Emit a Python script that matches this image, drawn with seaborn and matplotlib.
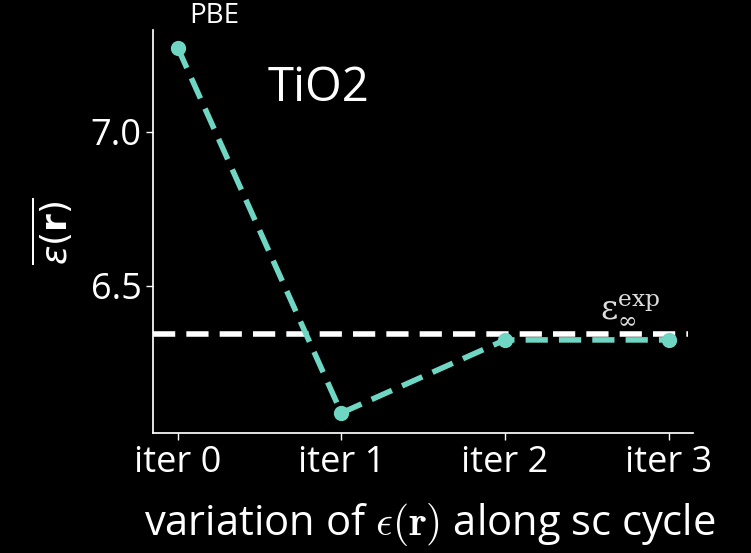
import matplotlib
matplotlib.use('Agg')
import matplotlib.pyplot as plt
import pandas as pd
import seaborn as sns

# data
iterations = [0, 1, 2, 3]
iter_labels = ['iter 0', 'iter 1', 'iter 2', 'iter 3']
eps_mean = [7.273, 6.088, 6.325, 6.325]
eps_exp = 6.344

teal = '#70d6c4'

sns.set_theme(style='ticks', rc={
    'figure.facecolor': 'black',
    'axes.facecolor': 'black',
    'axes.edgecolor': 'white',
    'xtick.color': 'white',
    'ytick.color': 'white',
    'text.color': 'white',
    'axes.labelcolor': 'white',
})
plt.rcParams['font.family'] = ['Open Sans', 'DejaVu Sans']

df = pd.DataFrame({'iter': iterations, 'eps': eps_mean})

fig, ax = plt.subplots(figsize=(7.51, 5.53), dpi=100)
fig.subplots_adjust(left=0.204, right=0.923, top=0.946, bottom=0.217)

ax.axhline(eps_exp, xmin=0, xmax=0.99, color='white', ls='--', lw=4,
           dashes=(4, 2))
sns.lineplot(data=df, x='iter', y='eps', ax=ax, color=teal, lw=4,
             marker='o', markersize=11, markeredgewidth=0, dashes=False,
             linestyle='--')
ax.lines[-1].set_dashes((4, 2))

ax.set_xlim(-0.15, 3.15)
ax.set_ylim(6.023, 7.331)
ax.set_xticks(iterations)
ax.set_xticklabels(iter_labels)
ax.set_yticks([6.5, 7.0])
ax.tick_params(labelsize=26, width=1, length=5)
sns.despine(ax=ax)

ax.set_xlabel(r'variation of $\epsilon(\mathbf{r})$ along sc cycle',
              fontsize=30, math_fontfamily='cm')
ax.xaxis.set_label_coords(0.512, -0.168)
ax.set_ylabel(r'$\overline{\varepsilon(\mathbf{r})}$', fontsize=26,
              labelpad=10, math_fontfamily='dejavusans')

ax.text(0.07, 7.33, 'PBE', fontsize=20, ha='left', va='bottom',
        clip_on=False)
ax.text(0.55, 7.14, 'TiO2', fontsize=34, ha='left', va='center')
ax.text(2.58, 6.37, r'$\mathrm{\epsilon}_\infty^{\rm exp}$', fontsize=24,
        color='#dddddd', math_fontfamily='dejavuserif', ha='left',
        va='bottom')

fig.savefig('out.png', dpi=100, facecolor='black')
